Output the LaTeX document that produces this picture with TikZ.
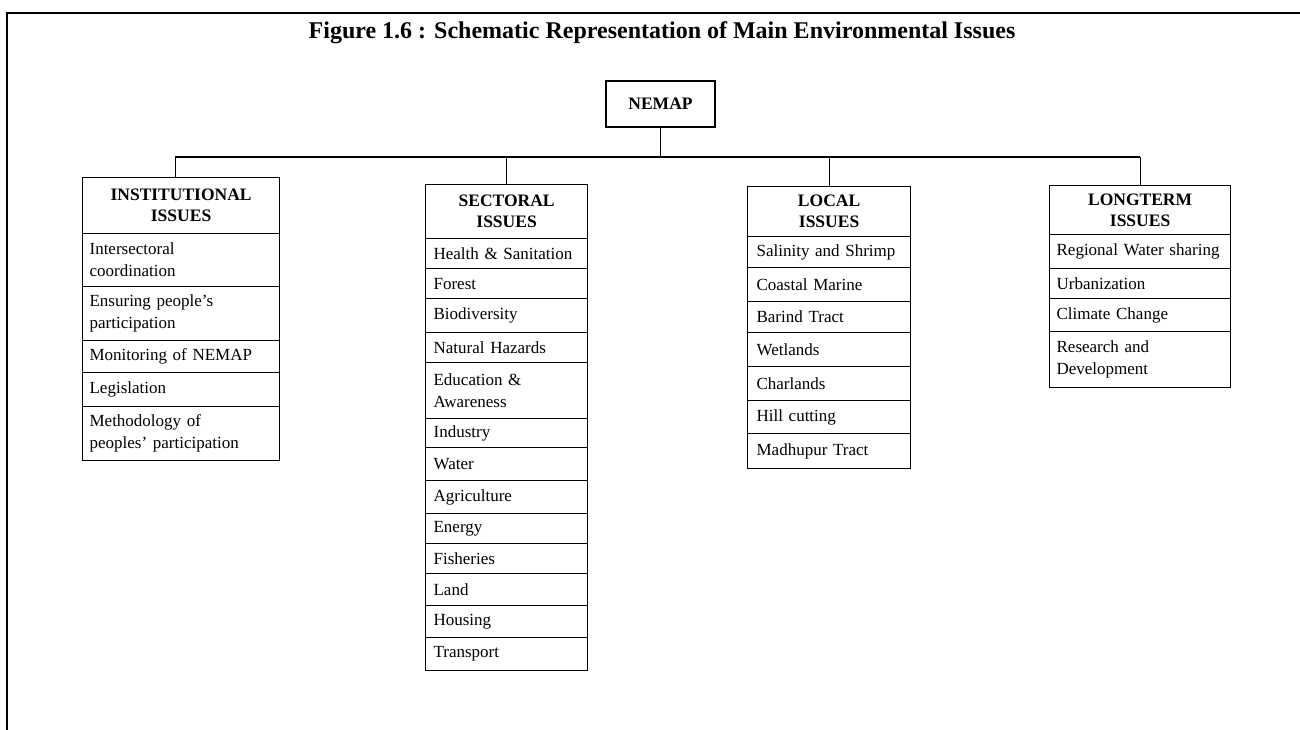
\documentclass[tikz,border=0pt]{standalone}
\usepackage{fontspec}
\setmainfont{Liberation Serif}
\newcommand{\hdrfont}{\bfseries\fontsize{17.5}{21}\selectfont}
\newcommand{\cellfont}{\fontsize{17}{22}\selectfont}
\begin{document}
\begin{tikzpicture}[x=1pt,y=-1pt,
  hdr/.style={draw, line width=1.2pt, anchor=north west, inner xsep=0pt, inner ysep=0pt, align=center, font=\hdrfont},
  cell/.style={draw, line width=1.2pt, anchor=north west, inner ysep=0pt, align=left, font=\cellfont},
  c1/.style={cell, inner xsep=7pt, text width=183pt},
  c2/.style={cell, inner xsep=8pt, text width=146pt},
  c3/.style={cell, inner xsep=9pt, text width=145pt},
  c4/.style={cell, inner xsep=7pt, text width=167pt},
  conn/.style={line width=0.9pt},
  bus/.style={line width=1.6pt},
  frame/.style={line width=2pt}]
\fill[white] (0,0) rectangle (1300,730);
\useasboundingbox (0,0) rectangle (1300,730);
% frame
\draw[frame] (1300,13) -- (7,13) -- (7,730);
% title
\node[anchor=base, font=\bfseries\fontsize{24}{28}\selectfont, inner sep=0pt] (title) at (662,39) {Figure 1.6 : Schematic Representation of Main Environmental Issues};
% root
\node[draw, line width=1.2pt, font=\hdrfont, minimum width=109pt, minimum height=46pt, inner sep=0pt] (nemap) at (660.5,104) {NEMAP};
% column 1
\node[hdr, text width=197pt, minimum height=56pt] (inst) at (82,177) {INSTITUTIONAL\\ISSUES};
\node[c1, minimum height=53pt] (i1) at (82,233) {Intersectoral\\coordination};
\node[c1, minimum height=54pt] (i2) at (82,286) {Ensuring people's\\participation};
\node[c1, minimum height=32pt] (i3) at (82,340) {Monitoring of NEMAP};
\node[c1, minimum height=34pt] (i4) at (82,372) {Legislation};
\node[c1, minimum height=54pt] (i5) at (82,406) {Methodology of\\peoples' participation};
% column 2
\node[hdr, text width=162pt, minimum height=54pt] (sect) at (425,184) {SECTORAL\\ISSUES};
\node[c2, minimum height=30pt] (s1) at (425,238) {Health \& Sanitation};
\node[c2, minimum height=30pt] (s2) at (425,268) {Forest};
\node[c2, minimum height=34pt] (s3) at (425,298) {Biodiversity};
\node[c2, minimum height=30pt] (s4) at (425,332) {Natural Hazards};
\node[c2, minimum height=56pt] (s5) at (425,362) {Education \&\\Awareness};
\node[c2, minimum height=29pt] (s6) at (425,418) {Industry};
\node[c2, minimum height=33pt] (s7) at (425,447) {Water};
\node[c2, minimum height=33pt] (s8) at (425,480) {Agriculture};
\node[c2, minimum height=30pt] (s9) at (425,513) {Energy};
\node[c2, minimum height=30pt] (s10) at (425,543) {Fisheries};
\node[c2, minimum height=32pt] (s11) at (425,573) {Land};
\node[c2, minimum height=32pt] (s12) at (425,605) {Housing};
\node[c2, minimum height=33pt] (s13) at (425,637) {Transport};
% column 3
\node[hdr, text width=163pt, minimum height=50pt] (local) at (747,186) {LOCAL\\ISSUES};
\node[c3, minimum height=31pt] (l1) at (747,236) {Salinity and Shrimp};
\node[c3, minimum height=34pt] (l2) at (747,267) {Coastal Marine};
\node[c3, minimum height=31pt] (l3) at (747,301) {Barind Tract};
\node[c3, minimum height=34pt] (l4) at (747,332) {Wetlands};
\node[c3, minimum height=34pt] (l5) at (747,366) {Charlands};
\node[c3, minimum height=33pt] (l6) at (747,400) {Hill cutting};
\node[c3, minimum height=35pt] (l7) at (747,433) {Madhupur Tract};
% column 4
\node[hdr, text width=181pt, minimum height=49pt] (long) at (1049,185) {LONGTERM\\ISSUES};
\node[c4, minimum height=34pt] (g1) at (1049,234) {Regional Water sharing};
\node[c4, minimum height=30pt] (g2) at (1049,268) {Urbanization};
\node[c4, minimum height=33pt] (g3) at (1049,298) {Climate Change};
\node[c4, minimum height=56pt] (g4) at (1049,331) {Research and\\Development};
% connectors
\coordinate (hl) at (0,157);
\coordinate (instx) at ([xshift=-6pt]inst.north);
\draw[conn] (nemap.south) -- (nemap.south |- hl);
\draw[bus] (instx |- hl) -- (long.north |- hl);
\draw[conn] (instx |- hl) -- (instx);
\draw[conn] (sect.north |- hl) -- (sect.north);
\draw[conn] (local.north |- hl) -- (local.north);
\draw[conn] (long.north |- hl) -- (long.north);
\end{tikzpicture}
\end{document}
